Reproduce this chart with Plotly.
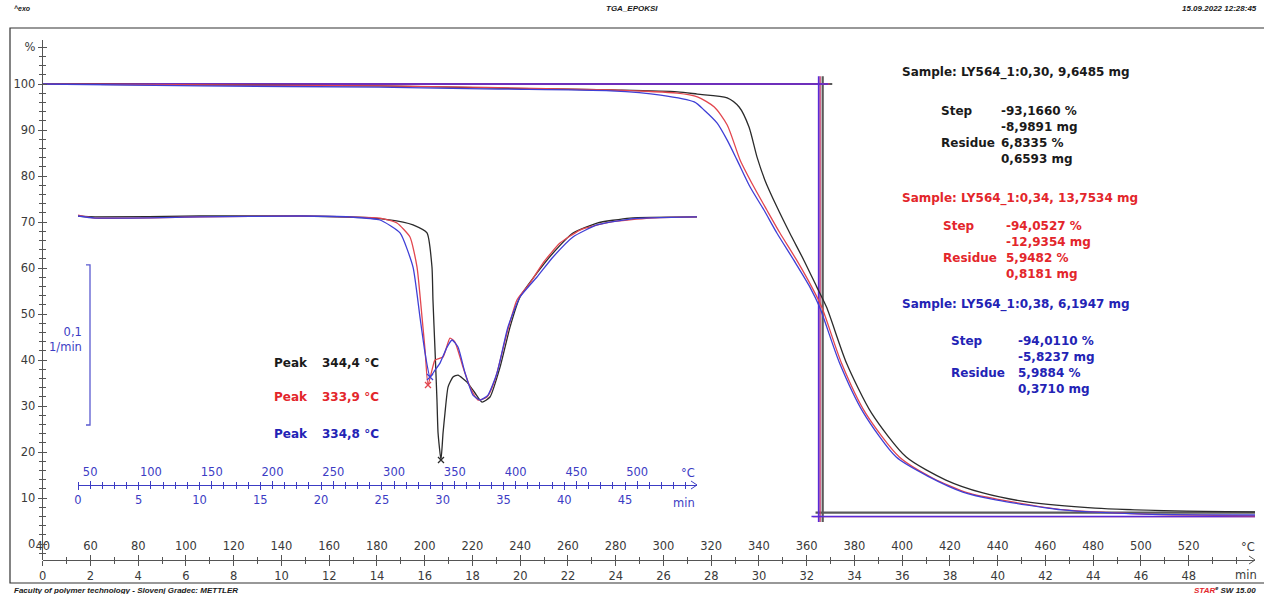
import plotly.graph_objects as go

W, H = 1264, 594
def px(x):
    return x / W
def py(y):
    return 1 - y / H

# ---------------- data ----------------
# Main TGA curves: sample temperature (°C) vs mass (%)
tga_black_T = [40.0, 105.8, 180.8, 230.8, 277.9, 305.8, 314.2, 326.7, 331.7, 335.8, 339.2, 342.5, 347.5,
               352.9, 358.8, 364.2, 368.3, 376.7, 387.1, 401.7, 418.3, 433.8, 452.9, 480.8, 514.2, 548.8]
tga_black_m = [100.0, 99.8, 99.6, 99.1, 98.7, 98.3, 97.8, 97.0, 95.0, 90.7, 84.1, 79.1, 73.3,
               67.6, 61.7, 55.9, 51.5, 39.3, 28.5, 18.9, 13.9, 11.1, 9.1, 7.8, 7.2, 7.0]

tga_red_T = [40.0, 180.8, 277.9, 305.8, 314.2, 321.3, 326.7, 332.1, 337.9, 343.3, 348.8, 355.8,
             362.1, 366.3, 374.6, 384.6, 398.8, 412.9, 427.5, 441.3, 468.3, 501.7, 548.8]
tga_red_m = [100.0, 99.6, 98.7, 98.0, 97.2, 95.0, 91.1, 83.5, 77.6, 72.6, 67.6, 61.7,
             55.9, 51.5, 39.3, 28.5, 18.9, 14.3, 11.1, 9.6, 7.4, 6.5, 6.1]

tga_blue_T = [40.0, 105.8, 180.8, 230.8, 277.9, 298.8, 312.9, 317.1, 322.5, 326.7, 330.8, 336.3, 342.1,
              347.5, 354.6, 361.3, 365.4, 373.8, 383.8, 397.5, 411.3, 425.4, 439.2, 467.1, 501.7, 548.8]
tga_blue_m = [100.0, 99.6, 99.3, 98.9, 98.5, 97.6, 96.1, 94.3, 91.5, 87.8, 83.5, 77.6, 72.6,
              67.6, 61.7, 55.9, 51.5, 39.3, 28.5, 18.9, 14.6, 11.3, 9.6, 7.4, 6.5, 6.3]

# Inset DTG curves: temperature (°C) vs rate (1/min)
dtg_black_T = [40.0, 54.0, 140.4, 222.6, 282.7, 307.4, 315.6, 327.1, 331.2, 332.0, 333.7, 335.3, 336.2,
               338.6, 340.3, 341.9, 344.4, 348.5, 352.6, 360.0, 366.6, 372.4, 378.9, 387.2, 395.4,
               403.6, 417.6, 430.8, 447.2, 467.0, 494.1, 549.2]
dtg_black_r = [0.0, -0.0006, 0.0, 0.0, -0.0013, -0.0038, -0.0056, -0.0106, -0.0319, -0.0525, -0.0838, -0.115, -0.1356,
               -0.1525, -0.1356, -0.1231, -0.1069, -0.1006, -0.0994, -0.1038, -0.1106, -0.1163, -0.1131, -0.0944, -0.0694,
               -0.0506, -0.0356, -0.0231, -0.0106, -0.0044, -0.0013, -0.0006]

dtg_red_T = [40.0, 54.0, 140.4, 222.6, 263.8, 288.4, 302.4, 313.1, 318.9, 323.0, 325.5, 327.9, 331.2,
             333.7, 340.3, 346.0, 350.1, 356.7, 362.5, 369.1, 376.5, 383.0, 392.9, 401.1, 411.8,
             422.5, 436.5, 453.0, 477.6, 510.5, 549.2]
dtg_red_r = [0.0006, -0.0013, -0.0006, 0.0, -0.0006, -0.0013, -0.0044, -0.0131, -0.0319, -0.0631, -0.0838, -0.1056, -0.0963,
             -0.09, -0.0881, -0.0763, -0.0788, -0.0944, -0.1069, -0.115, -0.1131, -0.1025, -0.0731, -0.0525, -0.0419,
             -0.0294, -0.0169, -0.0088, -0.0038, -0.0013, -0.0006]

dtg_blue_T = [40.0, 54.0, 140.4, 222.6, 263.8, 288.4, 304.9, 315.6, 321.3, 325.5, 329.6, 333.7, 337.8,
              343.6, 347.7, 352.6, 358.4, 364.9, 370.7, 377.3, 384.7, 393.7, 403.6, 417.6, 430.8,
              447.2, 467.0, 494.1, 549.2]
dtg_blue_r = [0.0, -0.0013, -0.0006, 0.0, -0.0006, -0.0025, -0.0106, -0.0319, -0.0631, -0.0856, -0.1006, -0.0963, -0.0919,
              -0.0819, -0.0775, -0.0819, -0.0981, -0.1119, -0.115, -0.1119, -0.0981, -0.0694, -0.0506, -0.0381, -0.0256,
              -0.0131, -0.0056, -0.0019, -0.0006]

# Peak minima of the DTG curves (black, red, blue)
peak_T = [338.6, 327.9, 329.6]
peak_r = [-0.1525, -0.1056, -0.1006]
peak_labels = ["344,4 °C", "333,9 °C", "334,8 °C"]

# Step evaluation (black, red, blue)
step_mid_T = [366.7, 365.6, 365.0]
residues = [6.8335, 5.9482, 5.9884]
samples = ["Sample: LY564_1:0,30, 9,6485 mg", "Sample: LY564_1:0,34, 13,7534 mg", "Sample: LY564_1:0,38, 6,1947 mg"]
step_pct = ["-93,1660 %", "-94,0527 %", "-94,0110 %"]
step_mg = ["-8,9891 mg", "-12,9354 mg", "-5,8237 mg"]
res_pct = ["6,8335 %", "5,9482 %", "5,9884 %"]
res_mg = ["0,6593 mg", "0,8181 mg", "0,3710 mg"]

main_T_ticks = list(range(40, 521, 20))
main_t_ticks = list(range(0, 49, 2))
main_y_ticks = list(range(0, 101, 10))
inset_T_ticks = list(range(50, 501, 50))
inset_t_ticks = list(range(0, 46, 5))

# ---------------- style ----------------
C_BLACK = "#2b2b2b"
C_RED = "#e2464e"
C_BLUE = "#3f3fd6"
T_BLACK = "#1a1a1a"
T_RED = "#e3262b"
T_BLUE = "#2323b5"
AX_BLUE = "#3c3cc4"
FONT = "DejaVu Sans"

fig = go.Figure()

# step evaluation lines (under curves)
line_cols = ["#5a5a5a", "#c8386a", "#5a2ad8"]
line_w = [2.2, 1.4, 1.6]
for i in range(3):
    fig.add_trace(go.Scatter(x=[40, step_mid_T[i] + 4], y=[100, 100], mode="lines",
                             line=dict(color=line_cols[i], width=line_w[i]), hoverinfo="skip"))
    fig.add_trace(go.Scatter(x=[step_mid_T[i], step_mid_T[i]], y=[101.7, 4.8], mode="lines",
                             line=dict(color=line_cols[i], width=line_w[i]), hoverinfo="skip"))
    fig.add_trace(go.Scatter(x=[step_mid_T[i] - 3, 549], y=[residues[i], residues[i]], mode="lines",
                             line=dict(color=line_cols[i], width=line_w[i]), hoverinfo="skip"))

# main TGA curves
for T, m, c in [(tga_black_T, tga_black_m, C_BLACK), (tga_red_T, tga_red_m, C_RED), (tga_blue_T, tga_blue_m, C_BLUE)]:
    fig.add_trace(go.Scatter(x=T, y=m, mode="lines", line=dict(color=c, width=1.3, shape="spline", smoothing=0.7),
                             hoverinfo="skip"))

# empty traces to activate overlay axes
fig.add_trace(go.Scatter(x=[], y=[], xaxis="x2", yaxis="y2"))
fig.add_trace(go.Scatter(x=[], y=[], xaxis="x4", yaxis="y3"))

# inset DTG curves
for T, r, c in [(dtg_black_T, dtg_black_r, C_BLACK), (dtg_red_T, dtg_red_r, C_RED), (dtg_blue_T, dtg_blue_r, C_BLUE)]:
    fig.add_trace(go.Scatter(x=T, y=r, mode="lines", xaxis="x3", yaxis="y3",
                             line=dict(color=c, width=1.3, shape="spline", smoothing=0.5), hoverinfo="skip"))

fig.add_trace(go.Scatter(x=peak_T, y=peak_r, mode="markers", xaxis="x3", yaxis="y3",
                         marker=dict(symbol="x-thin", size=6, line=dict(width=1.3, color=[C_BLACK, C_RED, C_BLUE])),
                         hoverinfo="skip"))

tick_font = dict(family=FONT, size=11.5, color="#3a3a3a")
inset_font = dict(family=FONT, size=11.5, color=AX_BLUE)

main_xdom = [px(42.7), px(1255)]
main_T_range = [40, 40 + (1255 - 42.7) / 2.3875]
main_t_range = [0, (1255 - 42.7) / 23.875]
inset_xdom = [px(78), px(697)]
inset_T_range = [40, 40 + (697 - 78) / 1.2156]
inset_t_range = [0, (697 - 78) / 12.156]

fig.update_layout(
    width=W, height=H, margin=dict(l=0, r=0, t=0, b=0, pad=0, autoexpand=False),
    paper_bgcolor="white", plot_bgcolor="white", showlegend=False,
    xaxis=dict(domain=main_xdom, range=main_T_range, anchor="free", position=py(560), side="top",
               showgrid=False, zeroline=False, showline=True, linecolor="#555", linewidth=1, automargin=False,
               tickmode="array", tickvals=main_T_ticks, ticks="outside", ticklen=5, tickcolor="#555",
               tickfont=tick_font,
               minor=dict(dtick=10, tick0=0, ticks="outside", ticklen=3, tickcolor="#555")),
    xaxis2=dict(overlaying="x", domain=main_xdom, range=main_t_range, anchor="free", position=py(560),
                side="bottom", showgrid=False, zeroline=False, showline=False, automargin=False,
                tickmode="array", tickvals=main_t_ticks, ticks="outside", ticklen=5,
                tickcolor="#555", tickfont=tick_font,
                minor=dict(dtick=1, tick0=0, ticks="outside", ticklen=3, tickcolor="#555")),
    yaxis=dict(domain=[py(560), py(40)], range=[-3.478, 109.565], anchor="x", showgrid=False, zeroline=False,
               showline=True, linecolor="#555", linewidth=1, automargin=False,
               tickmode="array", tickvals=main_y_ticks + [108], ticktext=[str(v) for v in main_y_ticks] + ["%"],
               ticks="outside", ticklen=4, tickcolor="#555", tickfont=tick_font,
               minor=dict(dtick=2, tick0=0, ticks="outside", ticklen=3, tickcolor="#555")),
    yaxis2=dict(overlaying="y", range=[-3.478, 109.565], anchor="x", side="left", showgrid=False, zeroline=False,
                showline=False, tickmode="array", tickvals=main_y_ticks + [108], showticklabels=False,
                ticks="inside", ticklen=4, tickcolor="#555", automargin=False,
                minor=dict(dtick=2, tick0=0, ticks="inside", ticklen=3, tickcolor="#555")),
    xaxis3=dict(domain=inset_xdom, range=inset_T_range, anchor="free", position=py(485), side="top",
                showgrid=False, zeroline=False, showline=True, linecolor=AX_BLUE, linewidth=1, automargin=False,
                tickmode="array", tickvals=inset_T_ticks, ticks="outside", ticklen=4, tickcolor=AX_BLUE,
                tickfont=inset_font,
                minor=dict(dtick=10, tick0=0, ticks="outside", ticklen=3, tickcolor=AX_BLUE)),
    xaxis4=dict(overlaying="x3", domain=inset_xdom, range=inset_t_range, anchor="free", position=py(485),
                side="bottom", showgrid=False, zeroline=False, showline=False, automargin=False,
                tickmode="array", tickvals=inset_t_ticks, ticks="outside", ticklen=4,
                tickcolor=AX_BLUE, tickfont=inset_font,
                minor=dict(dtick=1, tick0=0, ticks="outside", ticklen=3, tickcolor=AX_BLUE)),
    yaxis3=dict(domain=[py(485), py(200)], range=[-0.1681, 0.01], anchor="x3", visible=False, automargin=False),
)

shapes = []
# frame
shapes.append(dict(type="rect", xref="paper", yref="paper", x0=px(10), x1=px(1275), y0=py(583), y1=py(28),
                   line=dict(color="#333", width=1.2)))
# axis arrows
shapes.append(dict(type="path", xref="paper", yref="paper",
                   path=f"M {px(1249)},{py(556)} L {px(1255)},{py(560)} L {px(1249)},{py(564)}",
                   line=dict(color="#555", width=1)))
shapes.append(dict(type="path", xref="paper", yref="paper",
                   path=f"M {px(691)},{py(481)} L {px(697)},{py(485)} L {px(691)},{py(489)}",
                   line=dict(color=AX_BLUE, width=1)))
# scale bar (0,1 1/min)
y0, y1 = -0.0306, -0.1306
shapes.append(dict(type="path", xref="paper", yref="y3",
                   path=f"M {px(86)},{y0} L {px(90)},{y0} L {px(90)},{y1} L {px(86)},{y1}",
                   line=dict(color="#5a5ad0", width=1.3)))
fig.update_layout(shapes=shapes)

ann = []
def text(x, y, s, color=T_BLACK, size=12, anchor="left", bold=True, family=FONT):
    ann.append(dict(x=px(x), y=py(y), xref="paper", yref="paper", text=(f"<b>{s}</b>" if bold else s),
                    showarrow=False, xanchor=anchor, yanchor="middle",
                    font=dict(family=family, size=size, color=color)))

# header / footer
text(12, 8, "<i>^exo</i>", size=7, family="Liberation Sans")
text(632, 8, "<i>TGA_EPOKSI</i>", size=8, anchor="center", family="Liberation Sans")
text(1180, 8, "<i>15.09.2022 12:28:45</i>", size=8, family="Liberation Sans")
text(12, 590, "<i>Faculty of polymer technology - Slovenj Gradec: METTLER</i>", size=8, family="Liberation Sans")
text(1192, 590, "<i><span style='color:#e3262b'>STAR</span><sup>e</sup> SW 15.00</i>", size=8,
     family="Liberation Sans")

# axis unit labels
text(1257, 547, "°C", color="#3a3a3a", size=11.5, anchor="right", bold=False)
text(1259, 575, "min", color="#3a3a3a", size=11.5, anchor="right", bold=False)
text(697, 473, "°C", color=AX_BLUE, size=11.5, anchor="right", bold=False)
text(697, 503, "min", color=AX_BLUE, size=11.5, anchor="right", bold=False)
ann.append(dict(x=px(84), y=py(340), xref="paper", yref="paper", text="0,1<br>1/min", showarrow=False,
                xanchor="right", yanchor="middle", align="right",
                font=dict(family=FONT, size=11.5, color=AX_BLUE)))

# sample result blocks
cols = [T_BLACK, T_RED, T_BLUE]
sample_y = [73, 199, 304]
step_y = [111, 226, 341]
lab_x = [939, 941, 949]
val_x = [999, 1004, 1016]
for i in range(3):
    text(900, sample_y[i], samples[i], color=cols[i])
    text(lab_x[i], step_y[i], "Step", color=cols[i])
    text(val_x[i], step_y[i], step_pct[i], color=cols[i])
    text(val_x[i], step_y[i] + 16, step_mg[i], color=cols[i])
    text(lab_x[i], step_y[i] + 32, "Residue", color=cols[i])
    text(val_x[i], step_y[i] + 32, res_pct[i], color=cols[i])
    text(val_x[i], step_y[i] + 48, res_mg[i], color=cols[i])

# peak labels
peak_y = [363, 397, 434]
for i in range(3):
    text(272, peak_y[i], "Peak", color=cols[i])
    text(320, peak_y[i], peak_labels[i], color=cols[i])

fig.update_layout(annotations=ann)
fig.write_html("out.html")
